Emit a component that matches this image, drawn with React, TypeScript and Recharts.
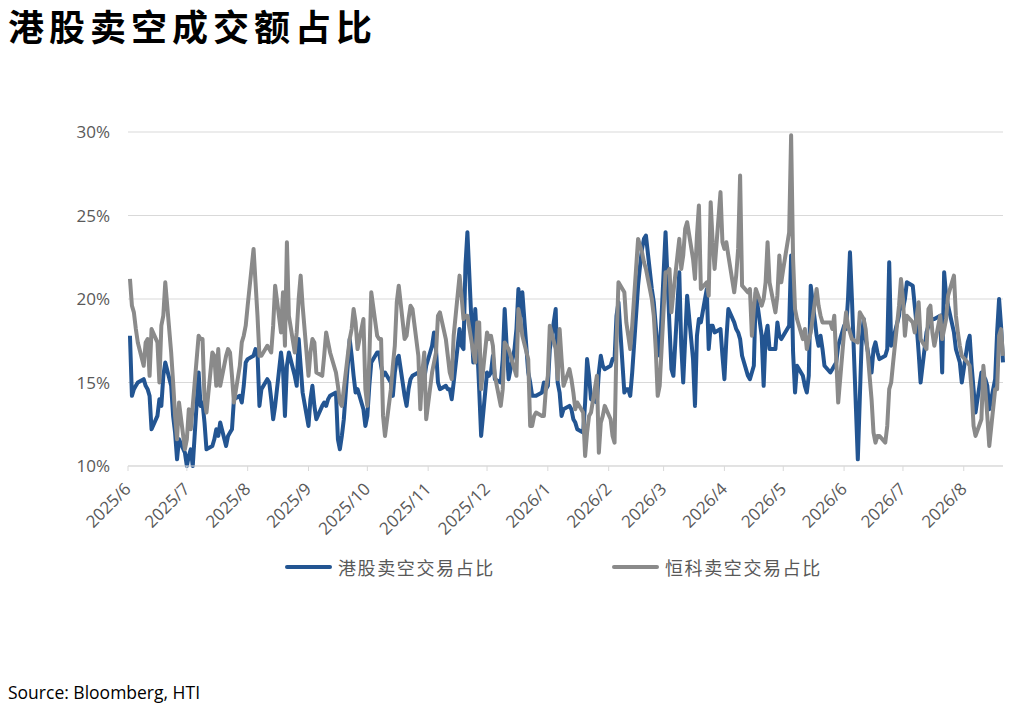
import { LineChart, Line, XAxis, YAxis, CartesianGrid } from "recharts"

// 2025/6/2 .. 2026/8/21, one value per weekday, grouped by month
const hkShort = [
  17.8, 14.2, 14.6, 14.8, 15.0, 15.2, 14.8, 14.6, 14.2, 12.2, 13.0, 14.0, 13.6, 15.4, 16.2, 14.8, 13.0, 12.0, 10.4, 11.6, 10.8,
  10.0, 10.6, 11.0, 10.0, 15.6, 13.6, 13.8, 12.6, 11.0, 11.2, 11.6, 12.2, 11.8, 12.6, 11.2, 11.8, 12.0, 12.2, 14.0, 14.2, 13.8, 14.8, 16.2,
  16.4, 16.6, 17.0, 16.8, 13.6, 14.6, 15.2, 15.0, 14.0, 12.8, 13.6, 16.8, 15.8, 13.0, 16.0, 16.8, 15.4, 14.8, 17.6, 16.0, 14.4,
  12.4, 14.0, 14.8, 13.6, 12.8, 13.6, 13.8, 13.6, 14.0, 14.2, 14.4, 11.6, 11.0, 11.8, 12.8, 17.6, 16.6, 15.4, 14.4, 14.6, 13.4, 12.4,
  13.0, 14.8, 16.2, 16.8, 16.8, 16.0, 15.4, 15.6, 15.0, 14.2, 15.6, 16.4, 16.6, 14.2, 13.6, 14.6, 15.2, 15.4, 15.6, 15.4, 15.0, 15.2, 16.0,
  17.2, 18.0, 17.0, 15.0, 14.6, 14.8, 14.6, 14.6, 14.0, 15.0, 18.2, 17.2, 17.0, 22.0, 24.0, 16.2, 19.4, 17.2, 14.6, 11.8,
  15.6, 15.4, 15.6, 16.6, 15.2, 15.0, 16.4, 19.4, 17.2, 15.2, 17.0, 18.2, 20.6, 19.0, 20.4, 15.6, 15.0, 14.2, 14.2, 14.2, 14.4, 15.0, 14.6,
  14.8, 17.0, 19.4, 15.0, 14.4, 13.0, 13.4, 13.6, 13.4, 12.8, 12.6, 12.2, 12.0, 13.8, 16.4, 15.4, 14.0, 13.8, 15.6, 16.6, 16.0, 15.8,
  16.0, 16.4, 16.4, 19.0, 19.8, 14.4, 14.6, 14.6, 14.2, 15.6, 20.8, 22.0, 23.0, 23.6, 23.8, 20.6, 19.8, 18.4, 17.0, 16.6,
  24.0, 21.2, 18.4, 15.8, 15.4, 21.6, 17.2, 15.0, 17.6, 20.2, 16.4, 13.6, 17.8, 18.8, 18.6, 20.6, 17.0, 18.4, 18.4, 18.0, 18.2, 16.6,
  15.2, 17.6, 19.4, 18.6, 18.2, 18.0, 17.6, 16.6, 15.4, 15.2, 15.6, 16.0, 20.4, 17.8, 14.8, 17.8, 18.4, 17.0, 17.0, 18.6, 17.8, 17.6,
  17.8, 18.4, 22.6, 16.8, 14.4, 16.0, 15.4, 14.8, 14.4, 15.4, 20.8, 17.8, 17.2, 17.8, 17.0, 16.0, 15.6, 15.8, 16.0, 16.2, 17.2,
  18.4, 18.2, 20.0, 22.8, 20.0, 10.4, 14.0, 17.6, 18.8, 17.6, 15.6, 17.0, 17.4, 16.8, 16.4, 16.6, 17.0, 22.2, 17.2, 17.6, 19.0, 20.4,
  19.4, 20.0, 21.0, 20.8, 19.6, 18.4, 16.8, 15.0, 18.0, 18.4, 18.6, 18.8, 18.8, 19.0, 15.6, 21.6, 20.2, 19.6, 18.0, 17.0, 16.6, 16.2, 15.0,
  17.4, 17.8, 16.0, 14.6, 13.2, 15.6, 15.4, 15.2, 14.8, 13.4, 15.2, 18.0, 20.0, 18.4, 16.2,
]

const hstechShort = [
  21.2, 19.6, 19.2, 18.2, 17.4, 16.0, 17.4, 17.6, 15.4, 18.2, 17.4, 15.0, 18.4, 19.0, 21.0, 16.8, 15.0, 13.0, 11.6, 13.8, 11.0,
  11.6, 13.4, 12.2, 13.6, 17.8, 17.6, 17.6, 14.0, 13.2, 16.8, 16.6, 14.8, 17.0, 14.8, 16.6, 17.0, 16.8, 15.4, 13.8, 16.0, 17.4, 17.8, 18.4,
  19.6, 23.0, 21.0, 19.0, 16.6, 16.6, 17.2, 17.0, 16.8, 18.4, 20.8, 18.0, 20.4, 17.2, 23.4, 19.0, 16.8, 18.0, 20.0, 21.4, 19.6,
  15.4, 16.8, 17.6, 17.4, 15.6, 15.4, 16.6, 18.0, 17.4, 16.8, 15.6, 14.8, 13.8, 13.6, 14.6, 17.6, 18.2, 19.4, 18.6, 17.0, 18.8, 14.6,
  13.6, 16.4, 20.4, 17.8, 17.6, 17.6, 13.0, 11.8, 14.6, 16.0, 17.2, 19.8, 20.8, 17.6, 17.8, 18.8, 19.6, 19.4, 16.6, 13.4, 15.6, 16.8, 12.8,
  15.6, 16.2, 16.8, 19.0, 19.2, 17.6, 16.6, 15.6, 15.2, 17.8, 21.4, 20.2, 18.8, 19.0, 19.0, 16.8, 16.2, 18.6, 18.6, 14.6,
  18.0, 17.6, 17.8, 17.2, 15.4, 13.6, 14.6, 17.4, 17.2, 17.0, 15.8, 15.4, 19.4, 18.8, 17.8, 16.4, 12.4, 12.4, 13.0, 13.2, 13.0, 13.0, 14.6,
  15.4, 18.4, 17.0, 15.2, 18.2, 16.4, 14.8, 15.8, 15.2, 14.4, 13.4, 13.8, 13.2, 10.6, 12.0, 13.0, 13.2, 15.4, 10.8, 12.6, 13.0, 13.6,
  12.8, 11.8, 11.4, 17.4, 21.0, 20.4, 18.6, 17.8, 17.0, 18.4, 23.6, 23.2, 22.8, 22.2, 21.8, 20.0, 19.0, 17.0, 14.2, 14.8,
  21.6, 21.6, 21.8, 19.2, 20.4, 23.6, 21.8, 22.6, 24.2, 24.6, 22.4, 21.2, 23.8, 25.6, 20.6, 21.0, 20.2, 25.8, 23.4, 21.8, 26.4, 23.4,
  23.0, 23.4, 22.6, 20.4, 21.4, 23.0, 27.4, 20.8, 20.4, 20.6, 17.8, 19.4, 20.6, 19.6, 20.0, 21.0, 23.4, 21.0, 19.2, 20.2, 22.6, 21.0,
  21.8, 24.0, 29.8, 22.4, 19.4, 18.8, 17.6, 18.2, 17.0, 17.6, 18.0, 20.6, 19.6, 19.0, 18.6, 18.6, 18.6, 18.2, 19.0, 16.4, 13.8,
  18.0, 19.2, 18.4, 18.0, 17.6, 17.4, 19.2, 19.0, 18.8, 18.2, 14.0, 12.0, 11.4, 11.8, 11.8, 11.4, 12.4, 14.6, 15.0, 16.2, 19.6, 21.2,
  20.0, 17.8, 19.0, 18.6, 18.0, 19.0, 19.8, 17.6, 17.0, 19.4, 19.6, 18.0, 17.2, 19.0, 17.6, 18.2, 18.8, 20.2, 21.4, 19.0, 18.0, 17.2, 16.6,
  16.2, 16.0, 14.6, 12.4, 11.8, 12.8, 16.0, 14.6, 13.0, 11.2, 14.6, 14.6, 17.8, 18.2, 16.6,
]

const tickLabels = [
  "2025/6", "2025/7", "2025/8", "2025/9", "2025/10", "2025/11", "2025/12",
  "2026/1", "2026/2", "2026/3", "2026/4", "2026/5", "2026/6", "2026/7", "2026/8",
]
const yTicks = [10, 15, 20, 25, 30]

const DAY = 86400000
const ORIGIN = Date.UTC(2025, 5, 1)
const LAST = Date.UTC(2026, 7, 21)

// trading days = weekdays in the range
const tradingDays: number[] = []
for (let ms = Date.UTC(2025, 5, 2); ms <= LAST; ms += DAY) {
  const wd = new Date(ms).getUTCDay()
  if (wd !== 0 && wd !== 6) tradingDays.push((ms - ORIGIN) / DAY)
}

const data = tradingDays.map((t, i) => ({ t, hk: hkShort[i], hstech: hstechShort[i] }))

const monthTicks = tickLabels.map((s) => {
  const [y, m] = s.split("/").map(Number)
  return (Date.UTC(y, m - 1, 1) - ORIGIN) / DAY
})
const labelOf: Record<number, string> = {}
monthTicks.forEach((t, i) => (labelOf[t] = tickLabels[i]))

const BLUE = "#235592"
const GRAY = "#8a8a8a"
const AXIS_TEXT = "#595959"

const XTick = (props: any) => {
  const { x, y, payload } = props
  return (
    <g transform={`translate(${x},${y})`}>
      <text
        x={4}
        y={17}
        textAnchor="end"
        transform="rotate(-45 4 17)"
        fill={AXIS_TEXT}
        fontSize={17}
        fontFamily="'Open Sans', sans-serif"
      >
        {labelOf[payload.value]}
      </text>
    </g>
  )
}

export default function App() {
  return (
    <div style={{ position: "absolute", left: 0, top: 0, width: 1025, height: 708, background: "#fff" }}>
      <div
        style={{
          position: "absolute",
          left: 8,
          top: 7,
          fontSize: 36,
          lineHeight: "36px",
          fontWeight: 700,
          letterSpacing: 5,
          fontFamily: "'Noto Sans CJK SC', sans-serif",
          color: "#000",
        }}
      >
        港股卖空成交额占比
      </div>
      <LineChart width={1025} height={708} data={data} margin={{ top: 132, right: 22, bottom: 182, left: 0 }}>
        <CartesianGrid horizontal vertical={false} stroke="#d9d9d9" />
        <XAxis
          dataKey="t"
          type="number"
          domain={[0, 446]}
          ticks={monthTicks}
          interval={0}
          height={60}
          tick={<XTick />}
          tickSize={5}
          stroke="#d9d9d9"
          axisLine={{ stroke: "#d9d9d9" }}
          tickLine={{ stroke: "#d9d9d9" }}
        />
        <YAxis
          type="number"
          domain={[10, 30]}
          ticks={yTicks}
          width={128}
          axisLine={false}
          tickLine={false}
          tickSize={0}
          tickMargin={18}
          tickFormatter={(v: number) => `${v}%`}
          tick={{ fill: AXIS_TEXT, fontSize: 17, fontFamily: "'Open Sans', sans-serif" }}
        />
        <Line
          type="linear"
          dataKey="hk"
          name="港股卖空交易占比"
          stroke={BLUE}
          strokeWidth={4}
          strokeLinejoin="round"
          dot={false}
          isAnimationActive={false}
        />
        <Line
          type="linear"
          dataKey="hstech"
          name="恒科卖空交易占比"
          stroke={GRAY}
          strokeWidth={4}
          strokeLinejoin="round"
          dot={false}
          isAnimationActive={false}
        />
      </LineChart>
      {[
        { left: 285, name: "港股卖空交易占比", color: BLUE },
        { left: 612, name: "恒科卖空交易占比", color: GRAY },
      ].map((it) => (
        <div
          key={it.name}
          style={{ position: "absolute", left: it.left, top: 555, height: 24, display: "flex", alignItems: "center" }}
        >
          <div style={{ width: 47, height: 4.5, background: it.color, borderRadius: 2 }} />
          <span
            style={{
              marginLeft: 6,
              fontSize: 18,
              letterSpacing: 1.6,
              color: AXIS_TEXT,
              fontFamily: "'Noto Sans CJK SC', sans-serif",
              lineHeight: "24px",
            }}
          >
            {it.name}
          </span>
        </div>
      ))}
      <div
        style={{
          position: "absolute",
          left: 8,
          top: 681,
          fontSize: 17.5,
          lineHeight: "22px",
          fontFamily: "'Open Sans', sans-serif",
          color: "#000",
        }}
      >
        Source: Bloomberg, HTI
      </div>
    </div>
  )
}
